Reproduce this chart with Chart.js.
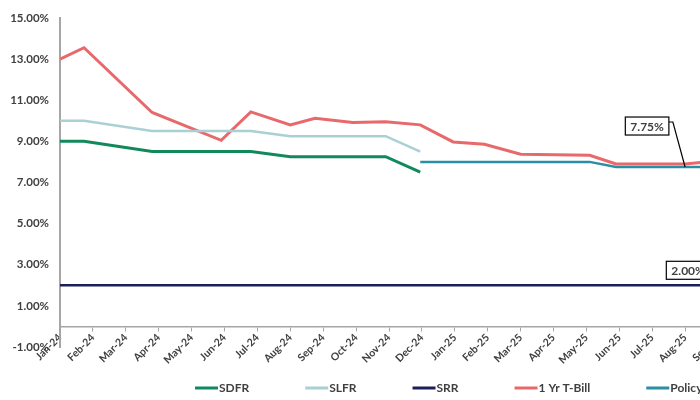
<!DOCTYPE html>
<html>
<head>
<meta charset="utf-8">
<script src="https://cdn.jsdelivr.net/npm/chart.js@4.4.1/dist/chart.umd.min.js"></script>
<style>
  html, body { margin: 0; padding: 0; background: #fff; overflow: hidden; }
</style>
</head>
<body>
<canvas id="rates" width="760" height="400"></canvas>
<script>
// month ticks on the x axis (index 0 = Jan-24)
const monthLabels = ['Jan-24', 'Feb-24', 'Mar-24', 'Apr-24', 'May-24', 'Jun-24', 'Jul-24', 'Aug-24',
  'Sep-24', 'Oct-24', 'Nov-24', 'Dec-24', 'Jan-25', 'Feb-25', 'Mar-25', 'Apr-25', 'May-25',
  'Jun-25', 'Jul-25', 'Aug-25', 'Sep-25'];
const yTicks = [-1, 1, 3, 5, 7, 9, 11, 13, 15];

// observation dates, as month index
const obsPos = [0, 0.73, 2.8, 4.9, 5.8, 7.0, 7.75, 8.9, 9.9, 10.95, 11.95, 12.9, 14.0, 16.1, 16.9, 19.0, 20.0];
const sdfr   = [9.0, 9.0, 8.5, 8.5, 8.5, 8.25, 8.25, 8.25, 8.25, 7.5, null, null, null, null, null, null, null];
const slfr   = [10.0, 10.0, 9.5, 9.5, 9.5, 9.25, 9.25, 9.25, 9.25, 8.5, null, null, null, null, null, null, null];
const srr    = [2.0, 2.0, 2.0, 2.0, 2.0, 2.0, 2.0, 2.0, 2.0, 2.0, 2.0, 2.0, 2.0, 2.0, 2.0, 2.0, 2.0];
const tbill  = [13.0, 13.55, 10.4, 9.05, 10.43, 9.8, 10.12, 9.92, 9.95, 9.8, 8.97, 8.86, 8.37, 8.32, 7.9, 7.9, 8.05];
const policy = [null, null, null, null, null, null, null, null, null, 8.0, 8.0, 8.0, 8.0, 8.0, 7.75, 7.75, 7.75];

const TEXT = '#404040';
const FONT = 'Lato';

function pts(vals) {
  return obsPos.map((x, i) => ({ x: x, y: vals[i] }));
}

function series(label, vals, color, width) {
  return {
    label: label,
    data: pts(vals),
    borderColor: color,
    backgroundColor: color,
    borderWidth: width,
    pointRadius: 0,
    tension: 0,
    spanGaps: false
  };
}

// boxed value labels (Excel style data callouts)
const callouts = {
  id: 'callouts',
  afterDatasetsDraw(chart) {
    const c = chart.ctx;
    const drawBox = (text, cx, cy) => {
      c.font = 'bold 12px ' + FONT;
      const w = c.measureText(text).width + 10, h = 18;
      c.fillStyle = '#fff';
      c.fillRect(cx - w / 2, cy - h / 2, w, h);
      c.strokeStyle = '#000';
      c.lineWidth = 1.2;
      c.strokeRect(cx - w / 2, cy - h / 2, w, h);
      c.fillStyle = TEXT;
      c.textAlign = 'center';
      c.textBaseline = 'middle';
      c.fillText(text, cx, cy + 1);
      return w;
    };
    c.save();
    // policy rate at Aug-25
    const p = chart.getDatasetMeta(4).data[15];
    const bx = p.x - 38, by = p.y - 41;
    const w = drawBox(policy[15].toFixed(2) + '%', bx, by);
    c.beginPath();
    c.strokeStyle = '#000';
    c.lineWidth = 1.2;
    c.moveTo(bx + w / 2, by - 4);
    c.lineTo(bx + w / 2 + 4, by - 4);
    c.lineTo(p.x, p.y);
    c.stroke();
    // SRR
    const s = chart.getDatasetMeta(2).data[15];
    drawBox(srr[15].toFixed(2) + '%', s.x + 3, s.y - 15);
    c.restore();
  }
};

// legend drawn below the plot
const bottomLegend = {
  id: 'bottomLegend',
  afterDraw(chart) {
    const c = chart.ctx;
    let x = 195;
    const y = 388;
    c.save();
    c.font = 'bold 12px ' + FONT;
    c.textBaseline = 'middle';
    c.textAlign = 'left';
    chart.data.datasets.forEach(ds => {
      c.strokeStyle = ds.borderColor;
      c.lineWidth = 3;
      c.beginPath();
      c.moveTo(x, y);
      c.lineTo(x + 23, y);
      c.stroke();
      c.fillStyle = TEXT;
      c.fillText(ds.label, x + 24, y);
      x += 24 + c.measureText(ds.label).width + 56;
    });
    c.restore();
  }
};

new Chart(document.getElementById('rates'), {
  type: 'line',
  data: {
    datasets: [
      series('SDFR', sdfr, '#12895c', 3),
      series('SLFR', slfr, '#a8d0d5', 2.5),
      series('SRR', srr, '#1c1f5a', 2.5),
      series('1 Yr T-Bill', tbill, '#e8696b', 3),
      series('Policy Rate', policy, '#2b8fa3', 2.5)
    ]
  },
  options: {
    responsive: false,
    animation: false,
    layout: { padding: { left: 0, top: 14, right: 42, bottom: 53 } },
    plugins: {
      legend: { display: false },
      tooltip: { enabled: false }
    },
    scales: {
      x: {
        type: 'linear',
        min: 0,
        max: monthLabels.length - 1,
        position: { y: 0 },
        grid: { drawOnChartArea: false, drawTicks: true, tickLength: 4, color: '#a6a6a6' },
        border: { color: '#a6a6a6', width: 1.5 },
        ticks: {
          stepSize: 1,
          autoSkip: false,
          maxTicksLimit: 40,
          minRotation: 45,
          maxRotation: 45,
          padding: 1,
          color: TEXT,
          font: { family: FONT, size: 10.5, weight: 'bold' },
          callback: v => monthLabels[v]
        }
      },
      y: {
        min: -1,
        max: 15,
        afterFit: s => { s.width = 60; },
        afterBuildTicks: s => { s.ticks = yTicks.map(v => ({ value: v })); },
        grid: { drawOnChartArea: false, drawTicks: false },
        border: { color: '#a6a6a6', width: 2 },
        ticks: {
          padding: 11,
          color: TEXT,
          font: { family: FONT, size: 11.5, weight: 'bold' },
          callback: v => v.toFixed(2) + '%'
        }
      }
    }
  },
  plugins: [callouts, bottomLegend]
});
</script>
</body>
</html>
